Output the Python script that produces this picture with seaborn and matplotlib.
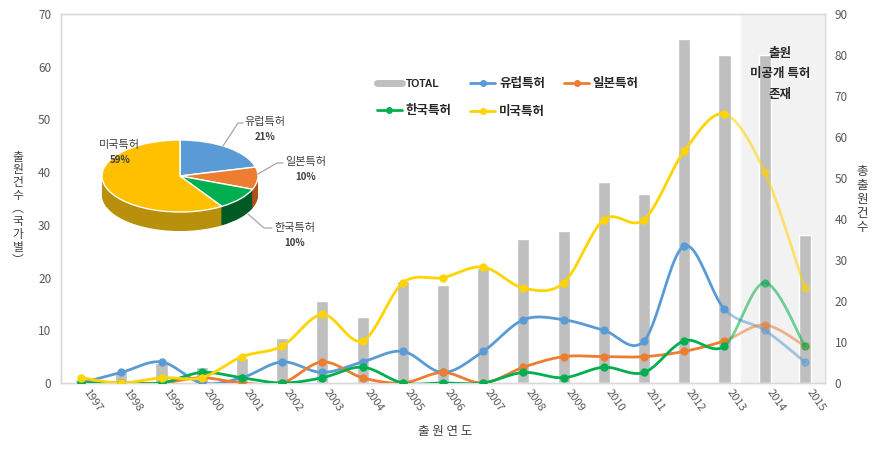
import numpy as np
import matplotlib
matplotlib.use("Agg")
import matplotlib.pyplot as plt
import matplotlib.transforms as mtransforms
from matplotlib.lines import Line2D
import seaborn as sns
import pandas as pd

# ---------------- data ----------------
years = [str(y) for y in range(1997, 2016)]
total = [1, 3, 5, 4, 6, 11, 20, 16, 25, 24, 28, 35, 37, 49, 46, 84, 80, 80, 36]
europe = [0, 2, 4, 0, 1, 4, 2, 4, 6, 2, 6, 12, 12, 10, 8, 26, 14, 10, 4]
japan = [0, 0, 0, 1, 0, 0, 4, 1, 0, 2, 0, 3, 5, 5, 5, 6, 8, 11, 7]
korea = [0, 0, 0, 2, 1, 0, 1, 3, 0, 0, 0, 2, 1, 3, 2, 8, 7, 19, 7]
usa = [1, 0, 1, 1, 5, 7, 13, 8, 19, 20, 22, 18, 19, 31, 31, 44, 51, 40, 18]
series_names = ["유럽특허", "일본특허", "한국특허", "미국특허"]
pie_labels = ["유럽특허", "일본특허", "한국특허", "미국특허"]
pie_shares = [21, 10, 10, 59]
left_ticks = list(range(0, 71, 10))
right_ticks = list(range(0, 91, 10))

# ---------------- style ----------------
sns.set_style("white")
plt.rcParams["font.family"] = ["Noto Sans CJK KR", "DejaVu Sans"]

W, H = 887, 451
fig = plt.figure(figsize=(W / 100, H / 100), dpi=100)


def fx(x):
    return x / W


def fy(y):
    return 1 - y / H


ax = fig.add_axes([fx(61), fy(383), (825 - 61) / W, (383 - 14) / H])
ax2 = ax.twinx()

# shaded region (unpublished patents)
ax2.axvspan(16.42, 18.47, color="#F2F2F2", zorder=0, lw=0)

# bars (TOTAL) on right axis
df = pd.DataFrame({"year": years, "total": total})
sns.barplot(data=df, x="year", y="total", ax=ax2, color="#BFBFBF",
            width=0.3, saturation=1, zorder=2)
ax2.set_ylim(0, 90)
ax2.set_yticks(right_ticks)
ax2.set_ylabel("")
ax2.set_xlabel("")


# smoothed lines (Excel-like bezier smoothing)
def bezier_segments(vals, n=24):
    y = np.asarray(vals, float)
    x = np.arange(len(y), dtype=float)
    m = len(y)
    segs = []
    t = np.linspace(0, 1, n)[:, None]
    for i in range(m - 1):
        p0 = np.array([x[max(i - 1, 0)], y[max(i - 1, 0)]])
        p1 = np.array([x[i], y[i]])
        p2 = np.array([x[i + 1], y[i + 1]])
        p3 = np.array([x[min(i + 2, m - 1)], y[min(i + 2, m - 1)]])
        c1 = p1 + (p2 - p0) / 6
        c2 = p2 - (p3 - p1) / 6
        pts = ((1 - t) ** 3) * p1 + 3 * ((1 - t) ** 2) * t * c1 + 3 * (1 - t) * (t ** 2) * c2 + (t ** 3) * p2
        segs.append(pts)
    return segs


colors = {"유럽특허": "#5B9BD5", "일본특허": "#ED7D31", "한국특허": "#00B050", "미국특허": "#FFD400"}
data_map = {"유럽특허": europe, "일본특허": japan, "한국특허": korea, "미국특허": usa}
split = 16
for k, name in enumerate(series_names):
    vals = data_map[name]
    c = colors[name]
    segs = bezier_segments(vals)
    solid = np.vstack(segs[:split])
    light = np.vstack(segs[split:])
    ax.plot(solid[:, 0], solid[:, 1], color=c, lw=2, zorder=5 + k, solid_capstyle="round")
    ax.plot(light[:, 0], light[:, 1], color=c, lw=2, alpha=0.55, zorder=5 + k)
    idx = np.arange(len(vals))
    ax.plot(idx[:split + 1], vals[:split + 1], "o", color=c, ms=5, zorder=5 + k)
    ax.plot(idx[split + 1:], vals[split + 1:], "o", color=c, ms=5, alpha=0.55, zorder=5 + k)

ax.set_zorder(ax2.get_zorder() + 1)
ax.patch.set_visible(False)
ax.set_ylim(0, 70)
ax.set_yticks(left_ticks)
ax.set_xlim(-0.5, 18.5)
ax.set_xticks(range(len(years)))
ax.set_xticklabels(years, rotation=-55, ha="left", va="top", fontsize=8)
offset = mtransforms.ScaledTranslation(-5 / 100, 0, fig.dpi_scale_trans)
for lab in ax.get_xticklabels():
    lab.set_transform(lab.get_transform() + offset)

for a in (ax, ax2):
    for s in a.spines.values():
        s.set_color("#D9D9D9")
        s.set_linewidth(1)
ax.tick_params(axis="both", length=0, labelcolor="#595959")
ax.tick_params(axis="y", pad=7, labelsize=8.5)
ax.tick_params(axis="x", pad=3)
ax2.tick_params(axis="y", length=0, labelcolor="#595959", labelsize=8.5, pad=7)
ax.grid(False)
ax2.grid(False)

# shaded region text (slanted to mimic italic)
for txt, yy in [("출원", 53), ("미공개 특허", 74), ("존재", 94)]:
    t = fig.text(fx(780), fy(yy), txt, ha="center", va="center", fontsize=9,
                 fontweight="bold", color="#262626")

# axis labels
fig.text(fx(445), fy(432), "출 원 연 도", ha="center", va="center", fontsize=9,
         color="#404040")
left_chars = "출원건수︵국가별︶"
for i, ch in enumerate(left_chars):
    fig.text(fx(18), fy(157 + i * 12.9), ch, ha="center", va="center",
             fontsize=8.5, color="#404040")
for i, ch in enumerate("총출원건수"):
    fig.text(fx(862), fy(172 + i * 14), ch, ha="center", va="center",
             fontsize=9, color="#404040")

# legend
handles = [Line2D([], [], color="#BFBFBF", lw=5)]
labels = ["TOTAL"]
order = ["한국특허", "유럽특허", "미국특허", "일본특허"]
for name in order:
    handles.append(Line2D([], [], color=colors[name], lw=2, marker="o", ms=4))
    labels.append(name)
leg = fig.legend(handles, labels, ncol=3, loc="upper left",
                 bbox_to_anchor=(fx(377), fy(77)), bbox_transform=fig.transFigure,
                 frameon=False, borderpad=0, borderaxespad=0, handlelength=2.0,
                 handletextpad=0.3, columnspacing=1.5, labelspacing=1.2,
                 prop={"size": 9, "weight": "bold"})
for t in leg.get_texts():
    t.set_color("#262626")
leg.get_texts()[0].set_fontsize(7.5)
leg.get_texts()[0].set_family(["Liberation Sans", "DejaVu Sans"])

# ---------------- 3D-looking pie ----------------
px0, px1, py0, py1 = 90, 272, 120, 250
cx, cy, rx, ry = 180, 176, 78, 36
pax = fig.add_axes([fx(px0), fy(py1), (px1 - px0) / W, (py1 - py0) / H])
top_colors = ["#5B9BD5", "#ED7D31", "#00B050", "#FFC000"]
side_colors = ["#2E6AA3", "#B0501A", "#005A24", "#B8900C"]
depth = 19 / ry
for d in np.linspace(depth, 0.02, 30):
    pax.pie(pie_shares, colors=side_colors, startangle=90, counterclock=False,
            center=(0, -d), radius=1, wedgeprops=dict(linewidth=0))
pax.pie(pie_shares, colors=top_colors, startangle=90, counterclock=False,
        center=(0, 0), radius=1, wedgeprops=dict(edgecolor="white", linewidth=1))
pax.set_xlim((px0 - cx) / rx, (px1 - cx) / rx)
pax.set_ylim(-(py1 - cy) / ry, (cy - py0) / ry)
pax.set_aspect("auto")
pax.axis("off")

# pie labels
pie_label_pos = {"유럽특허": (265, 122), "일본특허": (306, 162),
                 "한국특허": (295, 228), "미국특허": (119, 145)}
for name, share in zip(pie_labels, pie_shares):
    x, y = pie_label_pos[name]
    fig.text(fx(x), fy(y), name, ha="center", va="center", fontsize=8, color="#404040")
    fig.text(fx(x + (1 if name == "미국특허" else 0)), fy(y + 15), f"{share}%", ha="center", va="center",
             fontsize=7, fontweight="bold", color="#404040")

leaders = [[(223, 146), (238, 123), (243, 123)],
           [(258, 174), (277, 163), (283, 163)],
           [(248, 214), (264, 228), (272, 228)]]
for pts in leaders:
    xs = [fx(p[0]) for p in pts]
    ys = [fy(p[1]) for p in pts]
    fig.add_artist(Line2D(xs, ys, color="#A6A6A6", lw=0.9, transform=fig.transFigure))

fig.savefig("out.png", dpi=100)
